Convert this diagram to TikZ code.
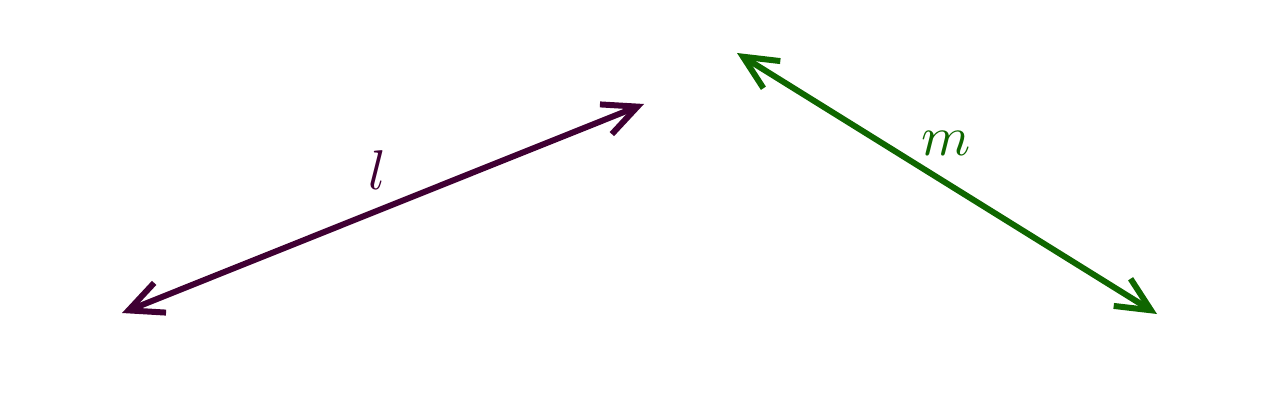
\documentclass[tikz,border=0pt]{standalone}
\usetikzlibrary{arrows.meta}
\definecolor{lcol}{HTML}{3F0033}
\definecolor{mcol}{HTML}{0F6600}
\begin{document}
\begin{tikzpicture}[x=1pt,y=-1pt,
  vec/.style={line width=6pt,{Straight Barb[length=34pt,width=32pt]}-{Straight Barb[length=34pt,width=32pt]}},
  lab/.style={scale=5.6,inner sep=0pt}]
\useasboundingbox (0,0) rectangle (1280,420);
\coordinate (l1) at (122,313);
\coordinate (l2) at (644,104);
\coordinate (m1) at (737,53);
\coordinate (m2) at (1157,314);
\draw[vec,lcol] (l1) -- (l2);
\draw[vec,mcol] (m1) -- (m2);
\node[lab,text=lcol] (ll) at (377,170) {$l$};
\node[lab,text=mcol] (ml) at (946,143) {$m$};
\end{tikzpicture}
\end{document}
